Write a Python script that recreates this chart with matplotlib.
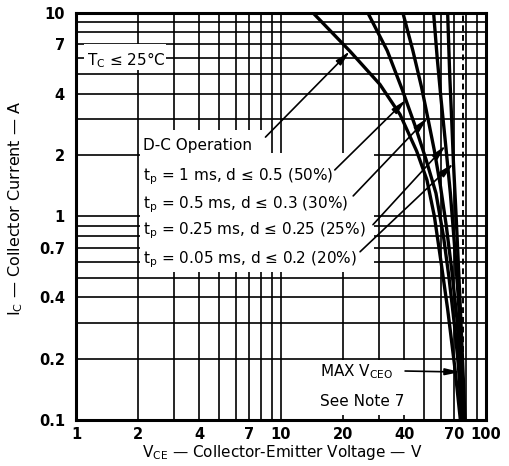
import matplotlib
matplotlib.use("Agg")
import matplotlib.pyplot as plt
from matplotlib.ticker import FixedLocator, NullFormatter
from matplotlib.patches import Rectangle

plt.rcParams['font.family'] = ['DejaVu Sans']
plt.rcParams['mathtext.default'] = 'regular'

# ---- data ----
dc_v = [14.3, 21.7, 30.4, 38.1, 45.9, 51.5, 56.0, 60.3, 65.0, 70.5, 75.0]
dc_i = [10.0, 6.47, 4.44, 3.16, 2.09, 1.51, 1.0, 0.6, 0.35, 0.18, 0.1]

p1_v = [26.5, 33.0, 39.0, 45.0, 51.0, 57.0, 62.0, 66.0, 70.5, 73.5, 76.0]
p1_i = [10.0, 6.5, 4.2, 2.8, 1.9, 1.3, 0.8, 0.5, 0.28, 0.18, 0.1]

p05_v = [39.3, 44.0, 48.5, 52.0, 56.0, 60.0, 64.0, 68.0, 72.0, 75.0, 77.5]
p05_i = [10.0, 6.5, 4.3, 3.05, 2.1, 1.4, 0.9, 0.55, 0.32, 0.18, 0.1]

p025_v = [55.5, 57.8, 60.3, 63.6, 67.0, 70.0, 73.0, 75.5, 78.0]
p025_i = [10.0, 6.0, 3.8, 2.23, 1.3, 0.75, 0.42, 0.24, 0.1]

p005_v = [65.0, 66.5, 68.0, 69.4, 71.5, 73.5, 75.5, 77.5, 79.0]
p005_i = [10.0, 5.0, 3.0, 1.82, 1.0, 0.55, 0.3, 0.16, 0.1]

vceo_max = 77.0

x_ticks = [1, 2, 4, 7, 10, 20, 40, 70, 100]
x_tick_labels = ["1", "2", "4", "7", "10", "20", "40", "70", "100"]
y_ticks = [0.1, 0.2, 0.4, 0.7, 1, 2, 4, 7, 10]
y_tick_labels = ["0.1", "0.2", "0.4", "0.7", "1", "2", "4", "7", "10"]
x_grid = [3, 5, 6, 8, 9, 30, 50, 60, 80, 90]
y_grid = [0.3, 0.5, 0.6, 0.8, 0.9, 3, 5, 6, 8, 9]

labels = ["D-C Operation",
          r"t$_p$ = 1 ms, d ≤ 0.5 (50%)",
          r"t$_p$ = 0.5 ms, d ≤ 0.3 (30%)",
          r"t$_p$ = 0.25 ms, d ≤ 0.25 (25%)",
          r"t$_p$ = 0.05 ms, d ≤ 0.2 (20%)"]
label_y = [2.12, 1.51, 1.10, 0.813, 0.591]
arrow_start = [(8.4, 2.45), (18.3, 1.69), (22.5, 1.26), (28.1, 0.91), (24.3, 0.67)]
arrow_tip = [(21.7, 6.47), (40.7, 3.73), (52.0, 3.05), (63.6, 2.23), (69.4, 1.82)]

# ---- figure ----
fig = plt.figure(figsize=(5.09, 4.66), dpi=100)
ax = fig.add_axes([76/509, 1-420/466, 410/509, 407.3/466])
ax.set_xscale('log')
ax.set_yscale('log')
ax.set_xlim(1, 100)
ax.set_ylim(0.1, 10)

ax.xaxis.set_major_locator(FixedLocator(x_ticks))
ax.xaxis.set_minor_locator(FixedLocator(x_grid))
ax.yaxis.set_major_locator(FixedLocator(y_ticks))
ax.yaxis.set_minor_locator(FixedLocator(y_grid))
ax.set_xticklabels(x_tick_labels)
ax.set_yticklabels(y_tick_labels)
ax.xaxis.set_minor_formatter(NullFormatter())
ax.yaxis.set_minor_formatter(NullFormatter())
ax.tick_params(which='both', length=0)
ax.tick_params(axis='x', pad=5, labelsize=10.5)
ax.tick_params(axis='y', pad=8, labelsize=10.5)
for lab in ax.get_xticklabels() + ax.get_yticklabels():
    lab.set_fontweight('bold')

ax.set_axisbelow(True)
ax.grid(which='both', color='black', lw=1.2)
for s in ax.spines.values():
    s.set_linewidth(2.2)

# white areas behind labels
wh = dict(facecolor='white', edgecolor='none', zorder=1.5)
ax.add_patch(Rectangle((2.06, 0.535), 28.3-2.06, 2.04-0.535, **wh))
ax.add_patch(Rectangle((2.06, 2.04), 8.5-2.06, 2.66-2.04, **wh))
ax.add_patch(Rectangle((1.1, 5.25), 2.75-1.1, 7.0-5.25, **wh))
ax.add_patch(Rectangle((12.0, 0.106), 46.0-12.0, 0.196-0.106, **wh))

# curves
for v, i in [(dc_v, dc_i), (p1_v, p1_i), (p05_v, p05_i), (p025_v, p025_i), (p005_v, p005_i)]:
    ax.plot(v, i, color='black', lw=2.4, zorder=3, solid_joinstyle='round')

ax.axvline(vceo_max, color='black', lw=1.4, ls=(0, (3, 2)), zorder=2.5)

# texts
fs = 11
ax.text(1.13, 5.54, r"T$_C$ ≤ 25°C", fontsize=fs, va='baseline', ha='left', zorder=4)
arrow_kw = dict(arrowstyle='-|>,head_length=0.9,head_width=0.2',
                color='black', lw=1.2, shrinkA=0, shrinkB=0)
for lab, y, s, t in zip(labels, label_y, arrow_start, arrow_tip):
    ax.text(2.12, y, lab, fontsize=fs, va='baseline', ha='left', zorder=4)
    ax.annotate("", xy=t, xytext=s, arrowprops=arrow_kw, zorder=4)

ax.text(15.5, 0.164, r"MAX V$_{CEO}$", fontsize=fs, va='baseline', ha='left', zorder=4)
ax.text(15.5, 0.117, "See Note 7", fontsize=fs, va='baseline', ha='left', zorder=4)
ax.annotate("", xy=(75.0, 0.172), xytext=(40.3, 0.174), arrowprops=arrow_kw, zorder=4)

ax.set_xlabel(r"V$_{CE}$ — Collector-Emitter Voltage — V", fontsize=11)
ax.set_ylabel(r"I$_C$ — Collector Current — A", fontsize=11.5)
ax.xaxis.set_label_coords(0.502, -0.056)
ax.xaxis.label.set_va('top')
ax.yaxis.set_label_coords(-0.125, 0.52)

fig.savefig("out.png", dpi=100)
